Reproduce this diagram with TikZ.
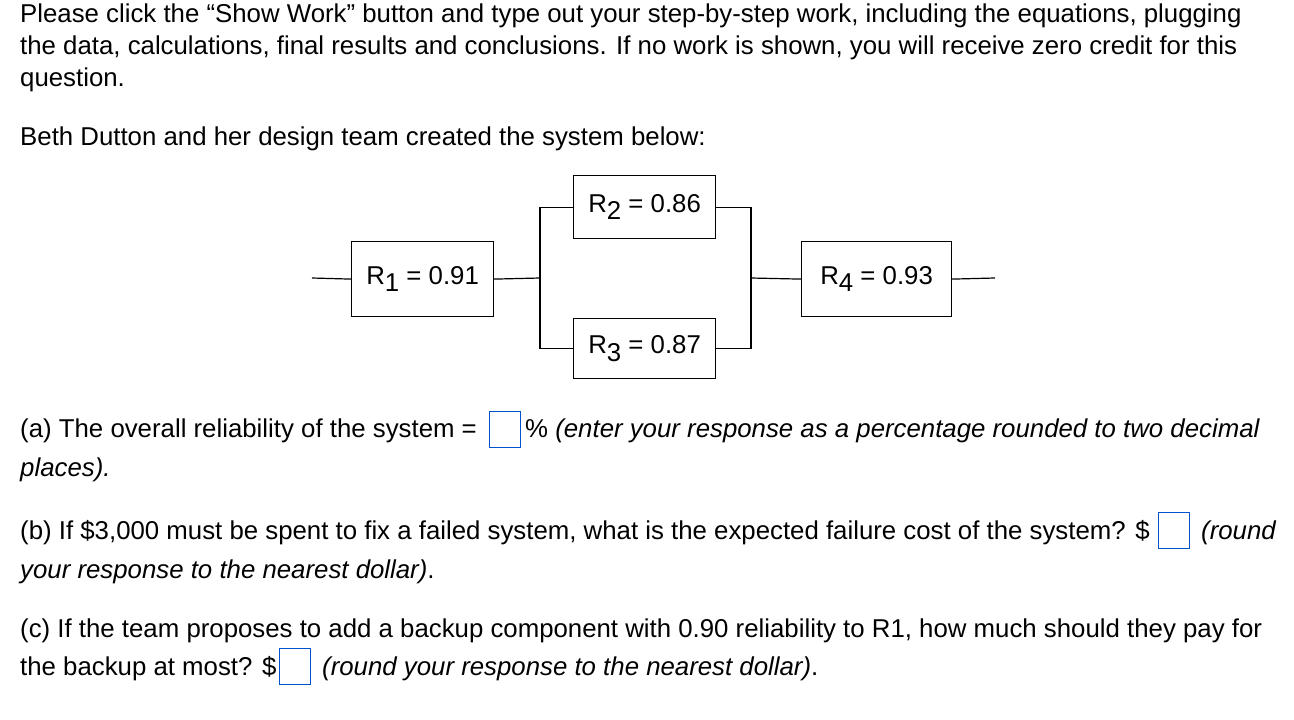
\documentclass[tikz,border=0pt]{standalone}
\usepackage{fontspec}
\setmainfont{Liberation Sans}
\begin{document}
\begin{tikzpicture}[x=1pt,y=-1pt,
  txt/.style={anchor=base west,inner sep=0pt,font=\fontsize{25.8}{30}\selectfont},
  blk/.style={draw,line width=1.2pt,minimum width=142pt,minimum height=66pt,inner sep=0pt,font=\fontsize{25.8}{30}\selectfont,anchor=north west},
  ans/.style={draw=blue!60!cyan!80!black,line width=1.2pt,minimum width=31pt,minimum height=36pt,inner sep=0pt,anchor=north west},
  wire/.style={line width=1.2pt}]
\newcommand{\sbs}[1]{\raisebox{-0.3em}{#1}}
\useasboundingbox (0,0) rectangle (1294,720);
\node[txt] (t1) at (20,22) {Please click the “Show Work” button and type out your step-by-step work, including the equations, plugging};
\node[txt] (t2) at (20,54) {the data, calculations, final results and conclusions. If no work is shown, you will receive zero credit for this};
\node[txt] (t3) at (20,86) {question.};
\node[txt] (t4) at (20,145) {Beth Dutton and her design team created the system below:};
% blocks
\node[blk,minimum height=75pt] (r1) at (351,241) {R\sbs{1} = 0.91};
\node[blk,minimum height=63pt] (r2) at (573,175) {R\sbs{2} = 0.86};
\node[blk,minimum height=60pt] (r3) at (573,318) {R\sbs{3} = 0.87};
\node[blk,minimum width=150pt,minimum height=75pt] (r4) at (801,241) {R\sbs{4} = 0.93};
\coordinate (in) at (312,278);
\coordinate (out) at (995,278);
\coordinate (s) at (540,278);
\coordinate (j) at (751,278);
\draw[wire] (in) -- (r1.west);
\draw[wire] (r1.east) -- (s);
\draw[wire] (s |- r2.west) -- (s |- r3.west);
\draw[wire] (s |- r2.west) -- (r2.west);
\draw[wire] (s |- r3.west) -- (r3.west);
\draw[wire] (r2.east) -- (j |- r2.east) -- (j |- r3.east) -- (r3.east);
\draw[wire] (j) -- (r4.west);
\draw[wire] (r4.east) -- (out);
% questions
\node[txt] (a1) at (20,437) {(a) The overall reliability of the system =};
\node[ans] (ba) at (489,411) {};
\node[txt] (a2) at (525,437) {\% \textit{(enter your response as a percentage rounded to two decimal}};
\node[txt] (a3) at (20,476) {\textit{places).}};
\node[txt] (b1) at (20,539) {(b) If \$3,000 must be spent to fix a failed system, what is the expected failure cost of the system? \$};
\node[ans] (bb) at (1158,512) {};
\node[txt] (b2) at (1201,539) {\textit{(round}};
\node[txt] (b3) at (20,578) {\textit{your response to the nearest dollar)}.};
\node[txt] (c1) at (20,637) {(c) If the team proposes to add a backup component with 0.90 reliability to R1, how much should they pay for};
\node[txt] (c2) at (20,675) {the backup at most? \$};
\node[ans] (bc) at (279,648) {};
\node[txt] (c3) at (322,675) {\textit{(round your response to the nearest dollar)}.};
\end{tikzpicture}
\end{document}
